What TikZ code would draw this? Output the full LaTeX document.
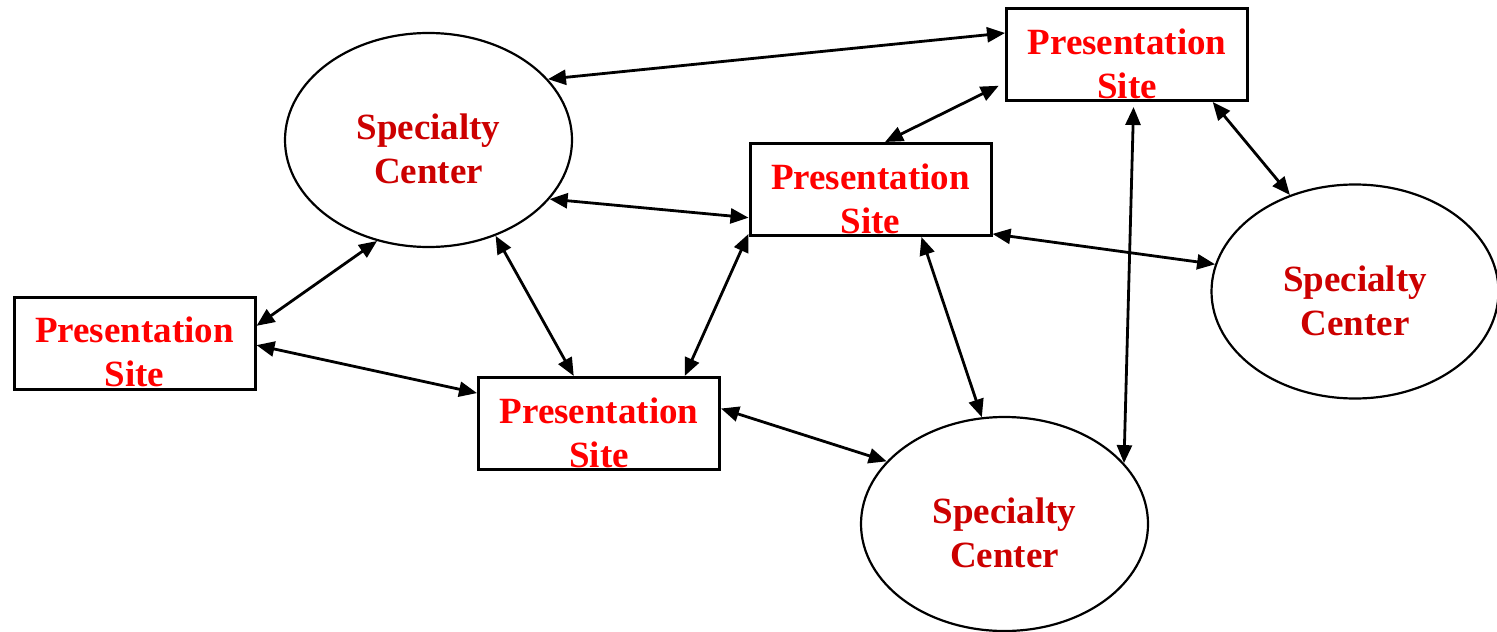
\documentclass[tikz,border=0pt]{standalone}
\usepackage{fontspec}
\setmainfont{Liberation Serif}
\usetikzlibrary{shapes.geometric,arrows.meta}
\definecolor{sitered}{HTML}{FF0000}
\definecolor{centerred}{HTML}{CC0000}
\begin{document}
\begin{tikzpicture}[x=0.5pt, y=-0.5pt]
	\tikzset{
		sc/.style={ellipse, draw=black, line width=1.1pt, minimum width=143.5pt, minimum height=107pt},
		ps/.style={rectangle, draw=black, line width=1.5pt, minimum width=120.5pt, minimum height=46pt},
		txt/.style={font=\bfseries\fontsize{18.5}{22}\selectfont, align=center, inner sep=0pt, yshift=-4.5pt},
		lnk/.style={{Triangle[length=9pt,width=7.5pt]}-{Triangle[length=9pt,width=7.5pt]}, line width=1.4pt}
	};
	\useasboundingbox (0,0) rectangle (1497,631);

	\node[sc] (sc1) at (428.5, 140) {};
	\node[sc] (sc2) at (1355, 291.5) {};
	\node[sc] (sc3) at (1004.5, 524) {};
	\node[ps] (ps1) at (1127, 54.5) {};
	\node[ps] (ps2) at (870.5, 189.5) {};
	\node[ps] (ps3) at (134.5, 343) {};
	\node[ps] (ps4) at (599, 423.5) {};

	\node[txt, centerred] (sc1t) at (sc1) {Specialty\\Center};
	\node[txt, centerred] (sc2t) at (sc2) {Specialty\\Center};
	\node[txt, centerred] (sc3t) at (sc3) {Specialty\\Center};
	\node[txt, sitered] (ps1t) at (ps1) {Presentation\\Site};
	\node[txt, sitered] (ps2t) at (ps2) {Presentation\\Site};
	\node[txt, sitered] (ps3t) at (ps3) {Presentation\\Site};
	\node[txt, sitered] (ps4t) at (ps4) {Presentation\\Site};

	\draw[lnk] (sc1.27) to (ps1.170);
	\draw[lnk] (sc1.-26) to (ps2.193);
	\draw[lnk] (sc1.243) to (ps3.8);
	\draw[lnk] (sc1.-55) to (ps4.118);

	\draw[lnk] (ps3.-1) to (ps4.166);

	\draw[lnk, shorten >=3.5pt] (ps2.73) to (ps1.193);
	\draw[lnk, shorten <=2.5pt] (ps1.-82) to (sc3.27);
	\draw[lnk] (ps1.-29) to (sc2.124);

	\draw[lnk] (ps2.-20) to (sc2.169);
	\draw[lnk] (ps2.200) to (ps4.29);
	\draw[lnk] (ps2.-43) to (sc3.102);

	\draw[lnk] (ps4.7) to (sc3.152);
\end{tikzpicture}
\end{document}
